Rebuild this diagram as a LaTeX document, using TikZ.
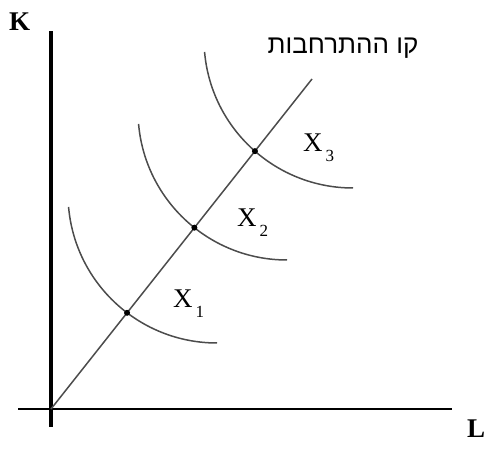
\documentclass[tikz,border=0pt]{standalone}
\usepackage{fontspec}
\setmainfont{Liberation Serif}
\newfontfamily\hebfont[Script=Hebrew]{Liberation Sans}
\TeXXeTstate=1
\usetikzlibrary{intersections}

\begin{document}
\begin{tikzpicture}[x=1pt, y=1pt,
	isoquant/.style={draw, black!70, line width=1.5pt},
	expline/.style={draw, black!70, line width=1.5pt},
	dot/.style={circle, fill=black, inner sep=0pt, minimum size=6pt},
	axislabel/.style={font=\fontsize{27}{27}\selectfont\bfseries, inner sep=0pt, anchor=base west},
	outlabel/.style={font=\fontsize{27}{27}\selectfont, inner sep=0pt, anchor=base west}]

	\useasboundingbox (0,0) rectangle (492,452);

	% Ejes
	\coordinate (origin) at (51,43);
	\coordinate (ktop) at (51,421);
	\coordinate (kbot) at (51,25);
	\coordinate (lleft) at (18,43);
	\coordinate (lright) at (452,43);
	\draw[line width=4.5pt] (kbot) -- (ktop);
	\draw[line width=2pt] (lleft) -- (lright);
	\node[axislabel] (klabel) at (9,421) {K};
	\node[axislabel] (llabel) at (467,15) {L};

	% Linea de expansion
	\coordinate (expend) at (312,373);
	\draw[expline, name path=exp] (origin) -- (expend);
	\node[font=\hebfont\fontsize{26}{26}\selectfont, inner sep=0pt] (explabel) at (343,404) {\beginR קו ההתרחבות\endR};

	% Isocuantas
	\foreach \i/\cx/\cy in {1/217/258, 2/287/341, 3/353/413} {
		\coordinate (c\i) at (\cx,\cy);
		\draw[isoquant, name path global=iso\i] (c\i) ++(185:149) arc[start angle=185, end angle=270, radius=149];
		\path[name intersections={of=exp and iso\i, by=p\i}];
		\node[dot] (pt\i) at (p\i) {};
	}

	% Etiquetas
	\node[outlabel] (x1) at (173,144) {X\kern3pt\raisebox{-10pt}{\fontsize{17}{17}\selectfont 1}};
	\node[outlabel] (x2) at (237,225) {X\kern3pt\raisebox{-10pt}{\fontsize{17}{17}\selectfont 2}};
	\node[outlabel] (x3) at (303,300) {X\kern3pt\raisebox{-10pt}{\fontsize{17}{17}\selectfont 3}};
\end{tikzpicture}
\end{document}
